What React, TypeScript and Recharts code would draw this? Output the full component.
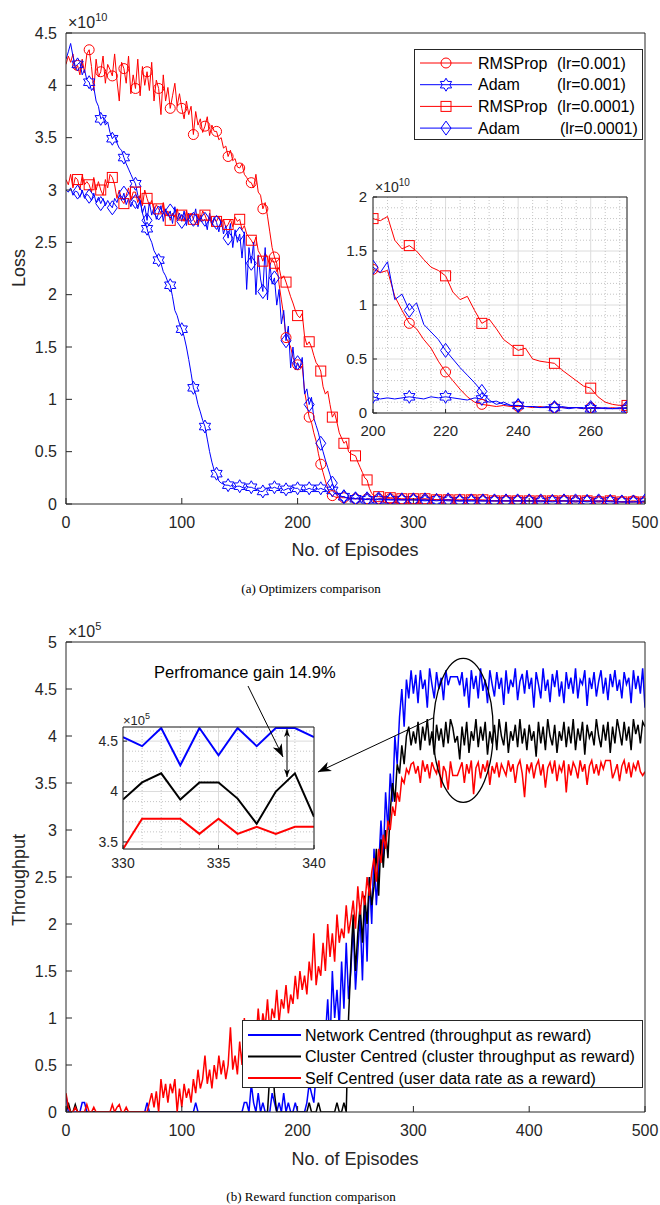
import React from 'react';
import { CartesianGrid, Legend, Line, LineChart, ReferenceDot, XAxis, YAxis } from 'recharts';

const FONT = '"Liberation Sans", Arial, Helvetica, sans-serif';
const SERIF = '"Liberation Serif", "Times New Roman", serif';
const INK = '#262626';
const RED = '#ff0000';
const BLUE = '#0000ff';
const BLACK = '#000000';

// ---------- (a) optimizers: loss (x1e10) ----------
// every 2 episodes up to 270, then every 10 (the curves are flat there)
const lossEpisodes = [
  ...Array.from({ length: 136 }, (_, i) => i * 2),
  ...Array.from({ length: 23 }, (_, i) => 280 + i * 10),
];

const rmsFastLoss = [
  4.2, 4.28, 4.22, 4.3, 4.15, 4.19, 4.1, 4.25, 4.12, 4.3,
  4.34, 4.18, 3.95, 4.25, 4.08, 4.13, 4.28, 4.02, 4.2, 4.15,
  4.09, 4.3, 4.05, 3.85, 4.22, 4.16, 4.02, 4.28, 3.92, 4.1,
  3.97, 4.25, 3.9, 4.18, 4.0, 4.13, 3.95, 4.22, 3.85, 4.05,
  3.97, 3.72, 4.1, 3.85, 3.98, 3.78, 3.9, 4.02, 3.8, 3.92,
  3.78, 3.68, 3.85, 3.72, 3.8, 3.53, 3.75, 3.62, 3.68, 3.55,
  3.61, 3.7, 3.52, 3.62, 3.56, 3.56, 3.48, 3.5, 3.4, 3.42,
  3.32, 3.38, 3.28, 3.3, 3.22, 3.21, 3.25, 3.15, 3.12, 3.08,
  3.07, 3.02, 3.15, 2.98, 2.95, 2.82, 2.88, 2.75, 2.6, 2.45,
  2.36, 2.3, 2.1, 1.95, 1.8, 1.59, 1.55, 1.5, 1.4, 1.35,
  1.33, 1.3, 1.32, 1.08, 0.95, 0.83, 0.78, 0.68, 0.6, 0.48,
  0.38, 0.3, 0.22, 0.15, 0.1, 0.08, 0.07, 0.06, 0.07, 0.06,
  0.06, 0.06, 0.05, 0.06, 0.05, 0.05, 0.05, 0.05, 0.05, 0.04,
  0.05, 0.05, 0.04, 0.05, 0.04, 0.05,
  0.05, 0.04, 0.04, 0.04, 0.04, 0.04, 0.03, 0.04, 0.03, 0.03,
  0.03, 0.03, 0.03, 0.03, 0.03, 0.03, 0.02, 0.03, 0.03, 0.03,
  0.02, 0.03, 0.02,
];
const adamFastLoss = [
  4.25, 4.32, 4.4, 4.28, 4.18, 4.2, 4.22, 4.1, 4.15, 4.05,
  4.03, 3.95, 3.98, 3.85, 3.8, 3.68, 3.7, 3.62, 3.65, 3.55,
  3.49, 3.52, 3.45, 3.4, 3.38, 3.31, 3.25, 3.2, 3.15, 3.1,
  3.06, 2.95, 2.9, 2.78, 2.7, 2.63, 2.55, 2.5, 2.42, 2.38,
  2.33, 2.3, 2.22, 2.18, 2.12, 2.09, 1.98, 1.85, 1.8, 1.72,
  1.67, 1.6, 1.5, 1.38, 1.25, 1.11, 1.05, 0.95, 0.88, 0.8,
  0.74, 0.62, 0.5, 0.4, 0.32, 0.29, 0.22, 0.2, 0.19, 0.18,
  0.18, 0.17, 0.18, 0.16, 0.17, 0.17, 0.16, 0.15, 0.17, 0.16,
  0.16, 0.15, 0.14, 0.13, 0.12, 0.12, 0.14, 0.15, 0.16, 0.15,
  0.16, 0.15, 0.14, 0.15, 0.13, 0.14, 0.15, 0.14, 0.16, 0.15,
  0.15, 0.13, 0.14, 0.13, 0.14, 0.15, 0.14, 0.13, 0.15, 0.14,
  0.15, 0.14, 0.13, 0.12, 0.14, 0.13, 0.1, 0.11, 0.08, 0.07,
  0.07, 0.06, 0.06, 0.05, 0.06, 0.05, 0.05, 0.04, 0.05, 0.05,
  0.04, 0.05, 0.04, 0.04, 0.05, 0.04,
  0.04, 0.04, 0.04, 0.03, 0.04, 0.03, 0.03, 0.03, 0.03, 0.03,
  0.03, 0.03, 0.03, 0.02, 0.03, 0.03, 0.02, 0.03, 0.02, 0.03,
  0.02, 0.02, 0.02,
];
const rmsSlowLoss = [
  3.1, 3.05, 3.15, 3.02, 3.12, 3.1, 3.0, 3.14, 3.05, 3.08,
  3.05, 2.98, 3.12, 3.0, 3.08, 3.0, 2.95, 3.1, 3.02, 3.15,
  3.12, 3.05, 2.92, 3.0, 2.9, 2.87, 2.95, 3.02, 2.9, 2.98,
  2.98, 2.88, 2.95, 2.85, 3.0, 2.92, 2.85, 2.9, 2.8, 2.86,
  2.82, 2.78, 2.88, 2.75, 2.8, 2.71, 2.78, 2.74, 2.82, 2.72,
  2.76, 2.7, 2.8, 2.72, 2.78, 2.72, 2.68, 2.76, 2.7, 2.8,
  2.76, 2.7, 2.74, 2.66, 2.72, 2.7, 2.75, 2.68, 2.72, 2.64,
  2.67, 2.72, 2.65, 2.74, 2.7, 2.72, 2.62, 2.66, 2.58, 2.55,
  2.52, 2.48, 2.55, 2.42, 2.38, 2.32, 2.4, 2.35, 2.28, 2.34,
  2.3, 2.22, 2.26, 2.15, 2.18, 2.12, 2.05, 1.98, 1.92, 1.85,
  1.8, 1.78, 1.82, 1.6, 1.52, 1.55, 1.5, 1.42, 1.35, 1.32,
  1.27, 1.12, 1.05, 1.08, 0.95, 0.83, 0.87, 0.78, 0.68, 0.63,
  0.58, 0.6, 0.5, 0.48, 0.47, 0.46, 0.4, 0.35, 0.3, 0.25,
  0.23, 0.15, 0.1, 0.08, 0.07, 0.07,
  0.06, 0.05, 0.05, 0.05, 0.04, 0.04, 0.04, 0.04, 0.04, 0.03,
  0.03, 0.03, 0.03, 0.03, 0.03, 0.03, 0.03, 0.03, 0.02, 0.03,
  0.02, 0.02, 0.02,
];
const adamSlowLoss = [
  3.0, 2.98, 3.02, 2.95, 2.99, 2.98, 2.93, 3.0, 2.92, 2.96,
  2.94, 2.9, 2.97, 2.88, 2.93, 2.87, 2.92, 2.85, 2.9, 2.86,
  2.83, 2.92, 2.88, 2.95, 2.9, 2.97, 2.86, 2.92, 2.84, 2.9,
  2.89, 2.82, 2.9, 2.78, 2.85, 2.71, 2.88, 2.76, 2.84, 2.72,
  2.78, 2.85, 2.7, 2.82, 2.75, 2.8, 2.68, 2.84, 2.72, 2.78,
  2.7, 2.8, 2.66, 2.78, 2.7, 2.72, 2.82, 2.65, 2.76, 2.7,
  2.72, 2.62, 2.78, 2.66, 2.74, 2.69, 2.6, 2.72, 2.58, 2.66,
  2.54, 2.68, 2.45, 2.62, 2.5, 2.58, 2.35, 2.6, 2.05, 2.45,
  2.3, 2.5, 2.0, 2.38, 2.15, 2.03, 2.45, 1.95, 2.3, 2.1,
  2.16, 1.9, 2.05, 1.72, 1.85, 1.56, 1.7, 1.3, 1.5, 1.28,
  1.35, 1.3, 1.4, 1.05, 1.1, 0.95, 1.02, 0.82, 0.75, 0.68,
  0.58, 0.5, 0.42, 0.35, 0.28, 0.2, 0.12, 0.08, 0.1, 0.07,
  0.07, 0.06, 0.06, 0.05, 0.05, 0.05, 0.06, 0.05, 0.05, 0.04,
  0.05, 0.04, 0.05, 0.04, 0.04, 0.05,
  0.04, 0.04, 0.04, 0.04, 0.03, 0.04, 0.03, 0.03, 0.03, 0.03,
  0.03, 0.03, 0.03, 0.03, 0.02, 0.03, 0.03, 0.02, 0.03, 0.02,
  0.02, 0.02, 0.03,
];

// ---------- (b) reward functions: throughput (x1e5), every 2 episodes ----------
const tpEpisodes = Array.from({ length: 251 }, (_, i) => i * 2);

const networkTp = [
  0.18, 0, 0, 0, 0, 0, 0, 0.1, 0.1, 0,
  0, 0, 0, 0, 0, 0, 0, 0, 0, 0,
  0, 0, 0, 0, 0, 0, 0, 0, 0, 0,
  0, 0, 0, 0, 0, 0.1, 0, 0, 0, 0,
  0, 0, 0, 0, 0, 0, 0, 0, 0, 0,
  0, 0, 0, 0, 0, 0, 0.1, 0, 0, 0,
  0, 0, 0, 0, 0, 0, 0, 0, 0, 0,
  0, 0, 0, 0, 0, 0, 0, 0.1, 0.1, 0,
  0.3, 0.1, 0, 0.2, 0, 0.1, 0, 0, 0, 0.2,
  0.1, 0, 0.1, 0, 0.2, 0, 0.1, 0, 0, 0.1,
  0, 0, 0, 0, 0.1, 0.3, 0.2, 0.1, 0.4, 0.3,
  0.5, 0.4, 0.8, 1.2, 0.7, 1.5, 1.0, 1.3, 0.9, 1.6,
  1.1, 1.8, 1.2, 1.5, 2.0, 1.3, 1.7, 2.1, 1.4, 2.3,
  1.6, 2.5, 2.0, 2.8, 2.2, 2.6, 3.1, 2.7, 3.4, 3.0,
  3.6, 3.3, 4.0, 3.7, 4.2, 4.5, 4.1, 4.6, 4.4, 4.7,
  4.45, 4.65, 4.35, 4.7, 4.5, 4.6, 4.3, 4.72, 4.55, 4.4,
  4.68, 4.5, 4.62, 4.38, 4.7, 4.54, 4.63, 4.63, 4.63, 4.63,
  4.54, 4.68, 4.42, 4.62, 4.3, 4.7, 4.5, 4.64, 4.4, 4.72,
  4.48, 4.6, 4.35, 4.7, 4.55, 4.42, 4.68, 4.5, 4.62, 4.33,
  4.7, 4.45, 4.6, 4.52, 4.72, 4.38, 4.58, 4.66, 4.45, 4.7,
  4.5, 4.62, 4.3, 4.68, 4.55, 4.4, 4.72, 4.48, 4.6, 4.36,
  4.66, 4.52, 4.7, 4.42, 4.58, 4.35, 4.68, 4.5, 4.62, 4.45,
  4.72, 4.4, 4.6, 4.55, 4.7, 4.32, 4.62, 4.5, 4.68, 4.42,
  4.58, 4.7, 4.45, 4.62, 4.38, 4.66, 4.52, 4.7, 4.48, 4.6,
  4.4, 4.68, 4.55, 4.62, 4.35, 4.7, 4.5, 4.64, 4.45, 4.72,
  4.3,
];
const clusterTp = [
  0, 0.1, 0, 0, 0.08, 0, 0, 0, 0, 0,
  0, 0, 0, 0, 0, 0, 0, 0, 0, 0,
  0, 0, 0, 0, 0, 0, 0, 0, 0, 0,
  0, 0, 0, 0, 0, 0, 0, 0, 0, 0,
  0, 0, 0, 0, 0, 0, 0, 0, 0, 0,
  0, 0, 0, 0, 0, 0, 0, 0, 0, 0,
  0, 0, 0, 0, 0, 0, 0, 0, 0, 0,
  0, 0, 0, 0, 0, 0, 0, 0, 0, 0,
  0, 0, 0, 0, 0, 0, 0, 0, 0.4, 0.6,
  0.2, 0, 0, 0, 0, 0, 0, 0, 0, 0,
  0, 0, 0, 0, 0, 0.1, 0, 0, 0, 0.1,
  0, 0, 0, 0, 0, 0, 0, 0.1, 0, 0,
  0.1, 0, 1.0, 1.6, 2.1, 1.5, 1.9, 2.2, 1.8, 2.3,
  2.0, 2.5, 2.2, 2.4, 2.8, 2.3, 2.9, 2.6, 3.0, 2.7,
  3.2, 3.5, 3.3, 3.7, 3.6, 3.9, 3.7, 4.0, 4.1, 3.9,
  4.05, 3.92, 4.15, 3.85, 4.1, 3.95, 4.18, 3.9, 4.05, 3.8,
  4.12, 3.95, 4.08, 3.88, 4.15, 3.92, 4.18, 4.09, 3.93, 4.0,
  3.75, 4.1, 3.9, 4.15, 3.82, 4.05, 3.95, 4.18, 3.88, 4.1,
  3.95, 4.15, 3.8, 4.05, 3.92, 4.12, 3.85, 4.18, 4.0, 3.9,
  4.15, 3.82, 4.05, 3.95, 4.12, 3.88, 4.18, 3.92, 4.08, 3.85,
  4.12, 3.95, 4.05, 3.78, 4.15, 3.92, 4.1, 3.85, 4.18, 4.0,
  3.9, 4.12, 3.82, 4.05, 3.95, 4.15, 3.88, 4.1, 3.92, 4.18,
  3.85, 4.08, 3.95, 4.15, 3.8, 4.12, 3.98, 4.05, 3.9, 4.18,
  4.0, 3.88, 4.12, 3.95, 4.15, 3.82, 4.1, 3.92, 4.18, 4.05,
  3.9, 4.15, 3.95, 4.1, 3.85, 4.18, 4.02, 4.12, 3.92, 4.15,
  4.1,
];
const selfTp = [
  0.2, 0.05, 0, 0, 0.05, 0, 0, 0, 0, 0.08,
  0, 0, 0.05, 0, 0, 0, 0, 0, 0, 0,
  0.08, 0, 0.05, 0.08, 0, 0, 0.05, 0, 0, 0,
  0, 0, 0, 0, 0, 0, 0.1, 0.2, 0.05, 0.22,
  0, 0.35, 0.15, 0.3, 0.1, 0.3, 0.2, 0.35, 0, 0.25,
  0.05, 0.3, 0.15, 0.25, 0.1, 0.35, 0.2, 0.45, 0.25, 0.35,
  0.6, 0.3, 0.45, 0.25, 0.5, 0.35, 0.6, 0.4, 0.55, 0.35,
  0.5, 0.9, 0.45, 0.6, 0.4, 0.75, 0.5, 1.0, 0.65, 0.95,
  0.6, 0.85, 0.75, 1.1, 0.8, 1.05, 0.9, 1.2, 0.85, 1.1,
  1.0, 1.3, 0.95, 1.2, 1.1, 1.35, 1.05, 1.25, 1.15, 1.45,
  1.2, 1.5, 1.3, 1.45, 1.25, 1.6, 1.4, 1.9, 1.35, 1.55,
  1.45, 1.8, 1.5, 2.0, 1.65, 1.9, 1.6, 2.1, 1.8, 1.95,
  1.85, 2.2, 1.9, 2.05, 2.25, 1.95, 2.4, 2.1, 2.35, 2.2,
  2.5, 2.3, 2.55, 2.7, 2.45, 2.8, 2.65, 2.95, 2.8, 3.1,
  3.0, 3.25, 3.15, 3.4, 3.3, 3.55, 3.5, 3.65, 3.6, 3.7,
  3.72, 3.6, 3.68, 3.5, 3.74, 3.62, 3.7, 3.55, 3.72, 3.65,
  3.6, 3.74, 3.45, 3.68, 3.62, 3.43, 3.73, 3.58, 3.58, 3.58,
  3.65, 3.72, 3.5, 3.7, 3.6, 3.74, 3.38, 3.66, 3.72, 3.55,
  3.7, 3.62, 3.74, 3.48, 3.68, 3.6, 3.72, 3.56, 3.7, 3.64,
  3.58, 3.74, 3.62, 3.7, 3.5, 3.68, 3.74, 3.6, 3.35, 3.7,
  3.62, 3.72, 3.55, 3.68, 3.74, 3.58, 3.7, 3.45, 3.66, 3.72,
  3.6, 3.74, 3.52, 3.68, 3.62, 3.74, 3.4, 3.7, 3.58, 3.72,
  3.66, 3.55, 3.74, 3.62, 3.7, 3.48, 3.68, 3.74, 3.6, 3.7,
  3.58, 3.72, 3.65, 3.74, 3.74, 3.74, 3.55, 3.62, 3.7, 3.52,
  3.68, 3.74, 3.6, 3.72, 3.56, 3.7, 3.64, 3.74, 3.62, 3.58,
  3.62,
];

// zoomed window 330..340, every episode
const gainEpisodes = [330, 331, 332, 333, 334, 335, 336, 337, 338, 339, 340];
const networkZoom = [4.54, 4.45, 4.63, 4.26, 4.63, 4.36, 4.63, 4.45, 4.63, 4.63, 4.54];
const clusterZoom = [3.92, 4.09, 4.18, 3.92, 4.09, 4.09, 3.93, 3.68, 4.0, 4.18, 3.75];
const selfZoom = [3.43, 3.73, 3.73, 3.73, 3.58, 3.73, 3.58, 3.65, 3.58, 3.65, 3.65];

// tick values
const epTicks = [0, 100, 200, 300, 400, 500];
const lossTicks = [0, 0.5, 1, 1.5, 2, 2.5, 3, 3.5, 4, 4.5];
const tpTicks = [0, 0.5, 1, 1.5, 2, 2.5, 3, 3.5, 4, 4.5, 5];
const zoomEpTicks = [200, 220, 240, 260];
const zoomLossTicks = [0, 0.5, 1, 1.5, 2];
const zoomEpMinor = [204, 208, 212, 216, 224, 228, 232, 236, 244, 248, 252, 256, 264, 268];
const zoomLossMinor = [0.1, 0.2, 0.3, 0.4, 0.6, 0.7, 0.8, 0.9, 1.1, 1.2, 1.3, 1.4, 1.6, 1.7, 1.8, 1.9];
const gainEpTicks = [330, 335, 340];
const gainTpTicks = [3.5, 4, 4.5];
const gainEpMinor = [331, 332, 333, 334, 336, 337, 338, 339];
const gainTpMinor = [3.6, 3.7, 3.8, 3.9, 4.1, 4.2, 4.3, 4.4, 4.6];

const lossRows = lossEpisodes.map((ep, i) => ({
  ep,
  rmsFast: rmsFastLoss[i],
  adamFast: adamFastLoss[i],
  rmsSlow: rmsSlowLoss[i],
  adamSlow: adamSlowLoss[i],
}));
const zoomRows = lossRows.filter((r) => r.ep >= 200 && r.ep <= 270);
const tpRows = tpEpisodes.map((ep, i) => ({ ep, network: networkTp[i], cluster: clusterTp[i], self: selfTp[i] }));
const gainRows = gainEpisodes.map((ep, i) => ({ ep, network: networkZoom[i], cluster: clusterZoom[i], self: selfZoom[i] }));

type MarkerKind = 'circle' | 'hexagram' | 'square' | 'diamond';

const lossSeries: { key: string; name: string; lr: string; color: string; marker: MarkerKind }[] = [
  { key: 'rmsFast', name: 'RMSProp', lr: '(lr=0.001)', color: RED, marker: 'circle' },
  { key: 'adamFast', name: 'Adam', lr: '(lr=0.001)', color: BLUE, marker: 'hexagram' },
  { key: 'rmsSlow', name: 'RMSProp', lr: '(lr=0.0001)', color: RED, marker: 'square' },
  { key: 'adamSlow', name: 'Adam', lr: '(lr=0.0001)', color: BLUE, marker: 'diamond' },
];

const tpSeries = [
  { key: 'network', name: 'Network Centred (throughput as reward)', color: BLUE },
  { key: 'cluster', name: 'Cluster Centred (cluster throughput as reward)', color: BLACK },
  { key: 'self', name: 'Self Centred (user data rate as a reward)', color: RED },
];

function Marker({ kind, cx, cy, color }: { kind: MarkerKind; cx: number; cy: number; color: string }) {
  const common = { fill: 'none', stroke: color, strokeWidth: 1 };
  if (kind === 'circle') return <circle cx={cx} cy={cy} r={5} {...common} />;
  if (kind === 'square') return <rect x={cx - 5} y={cy - 5} width={10} height={10} {...common} />;
  if (kind === 'diamond')
    return <polygon points={`${cx},${cy - 7} ${cx + 5},${cy} ${cx},${cy + 7} ${cx - 5},${cy}`} {...common} />;
  const pts: string[] = [];
  for (let k = 0; k < 12; k++) {
    const r = k % 2 === 0 ? 6.5 : 3.75;
    const a = (-90 + k * 30) * (Math.PI / 180);
    pts.push(`${cx + r * Math.cos(a)},${cy + r * Math.sin(a)}`);
  }
  return <polygon points={pts.join(' ')} {...common} />;
}

// marker on every 10th episode, like MarkerIndices in the source figure
const markerDot = (kind: MarkerKind, color: string) => (p: any) => {
  const ep = p.payload ? p.payload.ep : -1;
  if (ep > 0 && ep % 10 === 0 && p.cx != null && p.cy != null)
    return <Marker key={`m${p.index}`} kind={kind} cx={p.cx} cy={p.cy} color={color} />;
  return <g key={`m${p.index}`} />;
};

type BoxSpec = {
  xDomain: [number, number];
  xTicks: number[];
  yDomain: [number, number];
  yTicks: number[];
  font: number;
  tickLen: number;
  xGap: number;
  yGap: number;
  xHeight: number;
  yWidth: number;
};

// MATLAB-style box: ticks inside on all four sides
function boxAxes(s: BoxSpec) {
  const tick = { fill: INK, fontSize: s.font, fontFamily: FONT };
  return [
    <XAxis key="xb" dataKey="ep" type="number" domain={s.xDomain} ticks={s.xTicks} interval={0}
      tick={tick} tickSize={-s.tickLen} tickMargin={s.xGap} height={s.xHeight} stroke={INK} allowDataOverflow />,
    <XAxis key="xt" xAxisId="top" orientation="top" dataKey="ep" type="number" domain={s.xDomain} ticks={s.xTicks}
      interval={0} tick={false} tickSize={-s.tickLen} height={1} stroke={INK} allowDataOverflow />,
    <YAxis key="yl" type="number" domain={s.yDomain} ticks={s.yTicks} interval={0} tick={tick}
      tickSize={-s.tickLen} tickMargin={s.yGap} width={s.yWidth} stroke={INK} allowDataOverflow />,
    <YAxis key="yr" yAxisId="right" orientation="right" type="number" domain={s.yDomain} ticks={s.yTicks}
      interval={0} tick={false} tickSize={-s.tickLen} width={1} stroke={INK} allowDataOverflow />,
  ];
}

function LossLegend() {
  return (
    <svg width={229} height={91} style={{ display: 'block' }}>
      <rect x={0.5} y={0.5} width={228} height={90} fill="#fff" stroke={INK} />
      {lossSeries.map((s, i) => {
        const y = 14 + i * 21.7;
        return (
          <g key={s.key}>
            <line x1={6} x2={58} y1={y} y2={y} stroke={s.color} />
            <Marker kind={s.marker} cx={32} cy={y} color={s.color} />
            <text x={64} y={y + 5.5} fontSize={16} fontFamily={FONT} fill="#000">{s.name}</text>
            <text x={i === 3 ? 146 : 143} y={y + 5.5} fontSize={16} fontFamily={FONT} fill="#000">{s.lr}</text>
          </g>
        );
      })}
    </svg>
  );
}

function TpLegend() {
  return (
    <svg width={401} height={68} style={{ display: 'block' }}>
      <rect x={0.5} y={0.5} width={400} height={67} fill="#fff" stroke={INK} />
      {tpSeries.map((s, i) => {
        const y = 15 + i * 21.5;
        return (
          <g key={s.key}>
            <line x1={6} x2={59} y1={y} y2={y} stroke={s.color} strokeWidth={2} />
            <text x={63} y={y + 5.5} fontSize={16} fontFamily={FONT} fill="#000">{s.name}</text>
          </g>
        );
      })}
    </svg>
  );
}

function arrowHead(x0: number, y0: number, x1: number, y1: number, len: number, half: number) {
  const d = Math.hypot(x1 - x0, y1 - y0);
  const ux = (x1 - x0) / d;
  const uy = (y1 - y0) / d;
  const bx = x1 - ux * len;
  const by = y1 - uy * len;
  const mx = x1 - ux * len * 0.72;
  const my = y1 - uy * len * 0.72;
  return `${x1},${y1} ${bx - uy * half},${by + ux * half} ${mx},${my} ${bx + uy * half},${by - ux * half}`;
}

function Arrow({ x0, y0, x1, y1, len = 13, half = 5, both = false }: any) {
  return (
    <g>
      <line x1={x0} y1={y0} x2={x1} y2={y1} stroke="#000" strokeWidth={1} />
      <polygon points={arrowHead(x0, y0, x1, y1, len, half)} fill="#000" />
      {both && <polygon points={arrowHead(x1, y1, x0, y0, len, half)} fill="#000" />}
    </g>
  );
}

function Times({ x, y, exp, size, sup }: { x: number; y: number; exp: string; size: number; sup: number }) {
  return (
    <text x={x} y={y} fontSize={size} fontFamily={FONT} fill={INK}>
      ×10<tspan dy={-size * 0.45} fontSize={sup}>{exp}</tspan>
    </text>
  );
}

export default function App() {
  return (
    <div style={{ position: 'relative', width: 660, height: 1205, background: '#fff', overflow: 'hidden' }}>
      <style>{'body{margin:0;background:#fff}'}</style>

      {/* (a) main loss plot */}
      <div style={{ position: 'absolute', left: 0, top: 0 }}>
        <LineChart width={660} height={600} data={lossRows} margin={{ top: 32, right: 14, bottom: 66, left: 16 }}>
          {boxAxes({ xDomain: [0, 500], xTicks: epTicks, yDomain: [0, 4.5], yTicks: lossTicks, font: 16, tickLen: 6, xGap: 19, yGap: 15, xHeight: 30, yWidth: 50 })}
          {lossSeries.map((s) => (
            <Line key={s.key} dataKey={s.key} name={s.name} stroke={s.color} strokeWidth={1}
              dot={markerDot(s.marker, s.color)} activeDot={false} isAnimationActive={false} />
          ))}
          <Legend layout="vertical" align="center" verticalAlign="middle"
            wrapperStyle={{ left: 414, top: 49, width: 229, height: 91 }} content={() => <LossLegend />} />
        </LineChart>
      </div>

      {/* (a) inset 200..270 */}
      <div style={{ position: 'absolute', left: 313, top: 175 }}>
        <LineChart width={330} height={275} data={zoomRows} margin={{ top: 21, right: 15, bottom: 7, left: 20 }}>
          <CartesianGrid fill="#fff" fillOpacity={1} stroke="#dcdcdc" />
          <CartesianGrid horizontalValues={zoomLossMinor} verticalValues={zoomEpMinor} stroke="#c4c4c4" strokeDasharray="1 2" />
          {boxAxes({ xDomain: [200, 270], xTicks: zoomEpTicks, yDomain: [0, 2], yTicks: zoomLossTicks, font: 15, tickLen: 4, xGap: 16, yGap: 10, xHeight: 30, yWidth: 40 })}
          {lossSeries.map((s) => (
            <Line key={s.key} dataKey={s.key} stroke={s.color} strokeWidth={1}
              dot={markerDot(s.marker, s.color)} activeDot={false} isAnimationActive={false} />
          ))}
        </LineChart>
      </div>

      {/* (b) main throughput plot */}
      <div style={{ position: 'absolute', left: 0, top: 600 }}>
        <LineChart width={660} height={605} data={tpRows} margin={{ top: 41, right: 14, bottom: 63, left: 16 }}>
          {boxAxes({ xDomain: [0, 500], xTicks: epTicks, yDomain: [0, 5], yTicks: tpTicks, font: 16, tickLen: 6, xGap: 19, yGap: 15, xHeight: 30, yWidth: 50 })}
          {tpSeries.map((s) => (
            <Line key={s.key} dataKey={s.key} name={s.name} stroke={s.color} strokeWidth={1.5}
              dot={false} activeDot={false} isAnimationActive={false} />
          ))}
          <ReferenceDot x={343} y={4.06} ifOverflow="visible"
            shape={(p: any) => <ellipse cx={p.cx} cy={p.cy} rx={30} ry={72} fill="none" stroke="#000" strokeWidth={1.3} />} />
          <Legend layout="vertical" align="center" verticalAlign="middle"
            wrapperStyle={{ left: 242, top: 420, width: 401, height: 68 }} content={() => <TpLegend />} />
        </LineChart>
      </div>

      {/* (b) inset 330..340 */}
      <div style={{ position: 'absolute', left: 63, top: 700 }}>
        <LineChart width={270} height={180} data={gainRows} margin={{ top: 26, right: 18, bottom: 6, left: 20 }}>
          <CartesianGrid fill="#fff" fillOpacity={1} stroke="#dcdcdc" />
          <CartesianGrid horizontalValues={gainTpMinor} verticalValues={gainEpMinor} stroke="#c4c4c4" strokeDasharray="1 2" />
          {boxAxes({ xDomain: [330, 340], xTicks: gainEpTicks, yDomain: [3.43, 4.64], yTicks: gainTpTicks, font: 14, tickLen: 4, xGap: 13, yGap: 9, xHeight: 25, yWidth: 40 })}
          {tpSeries.map((s) => (
            <Line key={s.key} dataKey={s.key} stroke={s.color} strokeWidth={2}
              dot={false} activeDot={false} isAnimationActive={false} />
          ))}
        </LineChart>
      </div>

      {/* titles, exponents and annotations */}
      <svg width={660} height={1205} style={{ position: 'absolute', left: 0, top: 0, pointerEvents: 'none' }}>
        <Times x={68} y={28} exp="10" size={16} sup={11} />
        <Times x={375} y={192} exp="10" size={14} sup={10} />
        <Times x={68} y={637} exp="5" size={16} sup={11} />
        <Times x={123} y={725} exp="5" size={13} sup={9} />

        <text transform="translate(25,268) rotate(-90)" textAnchor="middle" fontSize={18} fontFamily={FONT} fill={INK}>Loss</text>
        <text transform="translate(25,880) rotate(-90)" textAnchor="middle" fontSize={18} fontFamily={FONT} fill={INK}>Throughput</text>
        <text x={355} y={556} textAnchor="middle" fontSize={18} fontFamily={FONT} fill={INK}>No. of Episodes</text>
        <text x={355} y={1165} textAnchor="middle" fontSize={18} fontFamily={FONT} fill={INK}>No. of Episodes</text>

        <text x={311} y={593} textAnchor="middle" fontSize={13} fontFamily={SERIF} fill="#000">(a) Optimizers comparison</text>
        <text x={311} y={1201} textAnchor="middle" fontSize={13} fontFamily={SERIF} fill="#000">(b) Reward function comparison</text>

        <text x={154} y={678} fontSize={16.5} fontFamily={FONT} fill="#000">Perfromance gain 14.9%</text>
        <Arrow x0={248} y0={686} x1={283} y1={757} />
        <Arrow x0={287} y0={729} x1={287} y1={777} len={8} half={3} both />
        <Arrow x0={433} y0={718} x1={318} y1={772} />
      </svg>
    </div>
  );
}
